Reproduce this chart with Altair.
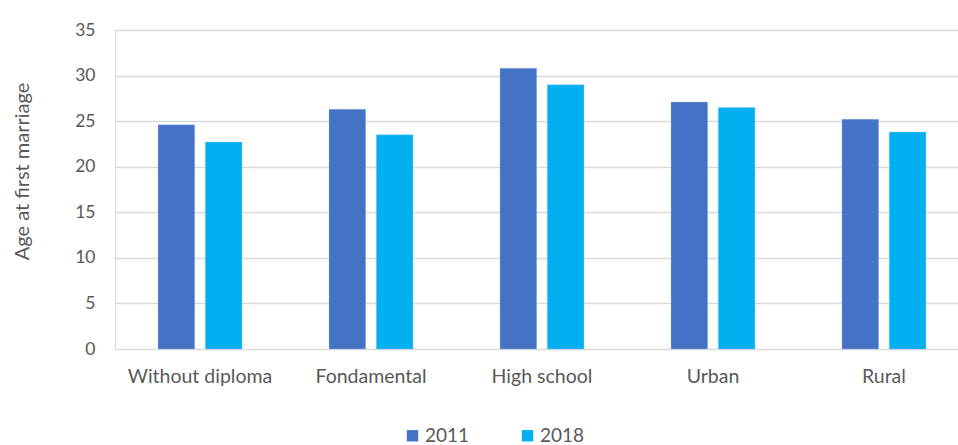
import altair as alt
import pandas as pd

categories = ["Without diploma", "Fondamental", "High school", "Urban", "Rural"]
years = ["2011", "2018"]
values_2011 = [24.6, 26.3, 30.8, 27.1, 25.2]
values_2018 = [22.7, 23.5, 29.0, 26.5, 23.8]

rows = []
for c, a, b in zip(categories, values_2011, values_2018):
    rows.append({"category": c, "year": "2011", "age": a})
    rows.append({"category": c, "year": "2018", "age": b})
df = pd.DataFrame(rows)

FONT = "Lato"
GREY = "#595959"

chart = alt.Chart(df).mark_bar(stroke="#9fc0ee", strokeWidth=0.6, strokeOpacity=0.6).encode(
    x=alt.X("category:N", sort=categories,
            scale=alt.Scale(paddingInner=0.509, paddingOuter=0.2196, align=0.573),
            axis=alt.Axis(title=None, labelAngle=0, domain=False, ticks=False,
                          labelPadding=18, labelFontSize=19.5, labelColor=GREY,
                          labelFont=FONT, grid=False)),
    xOffset=alt.XOffset("year:N", sort=years,
                        scale=alt.Scale(paddingInner=0.2245, paddingOuter=0)),
    y=alt.Y("age:Q", scale=alt.Scale(domain=[0, 35], nice=False),
            axis=alt.Axis(title="Age at first marriage", values=[0, 5, 10, 15, 20, 25, 30, 35],
                          domain=False, ticks=False, labelPadding=20,
                          labelFontSize=17.5, labelColor=GREY, labelFont=FONT,
                          titleFontSize=20, titleColor=GREY, titleFont=FONT,
                          titleFontWeight="normal", titleX=-93, titleY=141,
                          titleAngle=-90, titleAlign="center", titleBaseline="middle",
                          gridColor="#D9D9D9", gridWidth=1.5)),
    color=alt.Color("year:N", sort=years,
                    scale=alt.Scale(domain=years, range=["#4472C4", "#00B0F0"]),
                    legend=alt.Legend(title=None, orient="none", direction="horizontal",
                                      legendX=288, legendY=396,
                                      symbolType="square", symbolSize=130,
                                      symbolStrokeWidth=0,
                                      labelFontSize=19, labelColor=GREY, labelFont=FONT,
                                      columnPadding=48, labelOffset=3)),
).properties(
    width=843, height=319,
    autosize=alt.AutoSizeParams(type="none"),
    padding={"left": 115, "top": 30, "right": 0, "bottom": 96},
).configure_view(stroke=None).configure(background="white")

chart.save("out.html", embed_options={"renderer": "svg", "actions": False})
